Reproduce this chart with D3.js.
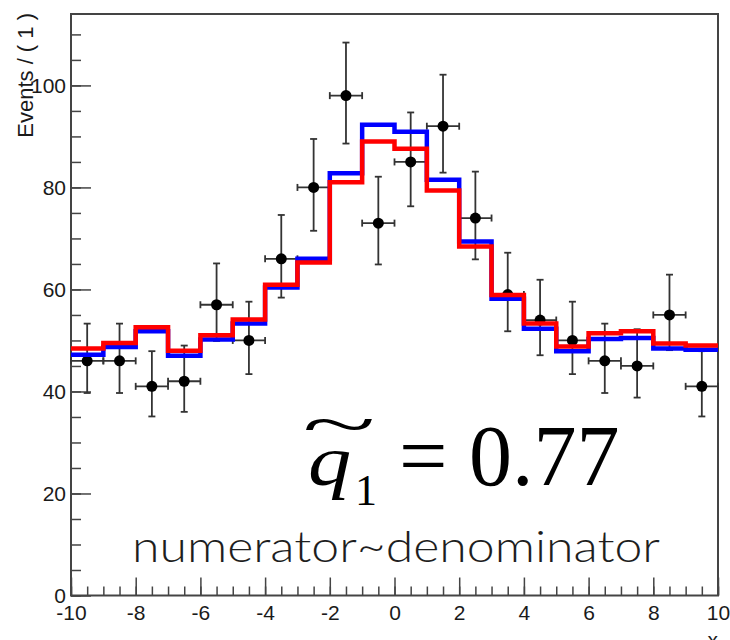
<!DOCTYPE html>
<html>
<head>
<meta charset="utf-8">
<script src="https://cdn.jsdelivr.net/npm/d3@7"></script>
<style>
  body { margin: 0; background: #fff; }
</style>
</head>
<body>
<svg id="chart" width="730" height="640"></svg>
<script>
// bin lower edges, width 1
const binLow = [-10, -9, -8, -7, -6, -5, -4, -3, -2, -1, 0, 1, 2, 3, 4, 5, 6, 7, 8, 9];
const binWidth = 1;

// data points (events per bin) and their error bar ends
const dataCounts = [46, 46, 41, 42, 57, 50, 66, 80, 98, 73, 85, 92, 74, 59, 54, 50, 46, 45, 55, 41];
const errLow  = [39.7, 39.7, 35.1, 36.0, 49.9, 43.4, 58.4, 71.5, 88.6, 64.9, 76.3, 82.9, 65.9, 51.8, 47.1, 43.4, 39.7, 38.8, 48.1, 35.1];
const errHigh = [53.3, 53.3, 47.9, 49.0, 65.1, 57.6, 74.6, 89.5, 108.4, 82.1, 94.7, 102.1, 83.1, 67.2, 61.9, 57.6, 53.3, 52.2, 62.9, 47.9];

// model histograms
const blueModel = [47.2, 48.7, 51.8, 47.0, 50.2, 53.3, 60.4, 66.0, 82.8, 92.3, 90.9, 81.5, 69.4, 58.2, 52.3, 47.9, 50.3, 50.5, 48.4, 48.2];
const redModel  = [48.4, 49.5, 52.6, 48.0, 51.0, 54.1, 60.9, 65.3, 81.0, 89.0, 87.6, 79.4, 68.4, 58.9, 53.3, 48.8, 51.4, 51.8, 49.4, 49.0];

const xTicks = [-10, -8, -6, -4, -2, 0, 2, 4, 6, 8, 10];
const yTicks = [0, 20, 40, 60, 80, 100];

const svg = d3.select("#chart");
const fLeft = 71, fRight = 718, fTop = 14, fBottom = 595.5;

const x = d3.scaleLinear().domain([-10, 10]).range([fLeft, fRight]);
const y = d3.scaleLinear().domain([0, 114]).range([fBottom, fTop]);

const axisFont = "'Liberation Sans', Arial, Helvetica, sans-serif";
const frameColor = "#444";

// minor ticks
svg.append("g")
  .attr("transform", `translate(0,${fBottom})`)
  .call(d3.axisBottom(x).tickValues(d3.range(-10, 10.01, 0.5)).tickSize(-9).tickFormat(""))
  .call(g => g.select(".domain").remove())
  .call(g => g.selectAll("line").attr("stroke", frameColor).attr("stroke-width", 1.5));

svg.append("g")
  .attr("transform", `translate(${fLeft},0)`)
  .call(d3.axisLeft(y).tickValues(d3.range(0, 114, 5)).tickSize(-10).tickFormat(""))
  .call(g => g.select(".domain").remove())
  .call(g => g.selectAll("line").attr("stroke", frameColor).attr("stroke-width", 1.5));

// major ticks + labels
svg.append("g")
  .attr("transform", `translate(0,${fBottom})`)
  .call(d3.axisBottom(x).tickValues(xTicks).tickSize(-18).tickPadding(10).tickFormat(d => String(d)))
  .call(g => g.select(".domain").remove())
  .call(g => g.selectAll("line").attr("stroke", frameColor).attr("stroke-width", 1.5))
  .call(g => g.selectAll("text").attr("font-family", axisFont).attr("font-size", 21).attr("fill", "#1a1a1a"));

svg.append("g")
  .attr("transform", `translate(${fLeft},0)`)
  .call(d3.axisLeft(y).tickValues(yTicks).tickSize(-20).tickPadding(5).tickFormat(d => String(d)))
  .call(g => g.select(".domain").remove())
  .call(g => g.selectAll("line").attr("stroke", frameColor).attr("stroke-width", 1.5))
  .call(g => g.selectAll("text").attr("font-family", axisFont).attr("font-size", 21).attr("fill", "#1a1a1a"));

// frame
svg.append("rect")
  .attr("x", fLeft).attr("y", fTop)
  .attr("width", fRight - fLeft).attr("height", fBottom - fTop)
  .attr("fill", "none").attr("stroke", frameColor).attr("stroke-width", 2);

// axis titles
svg.append("text")
  .attr("transform", `translate(33,${fTop - 1}) rotate(-90)`)
  .attr("text-anchor", "end")
  .attr("font-family", axisFont).attr("font-size", 22).attr("fill", "#1a1a1a")
  .text("Events / ( 1 )");

svg.append("text")
  .attr("x", fRight).attr("y", 647)
  .attr("text-anchor", "end")
  .attr("font-family", axisFont).attr("font-size", 21).attr("fill", "#1a1a1a")
  .text("x");

// data points with error bars
const pts = binLow.map((b, i) => ({ lo: b, c: dataCounts[i], eLo: errLow[i], eHi: errHigh[i] }));
const errColor = "#333";
const cap = 3.5;
const pg = svg.append("g");

pg.selectAll(".vbar").data(pts).enter().append("line")
  .attr("x1", d => x(d.lo + binWidth / 2)).attr("x2", d => x(d.lo + binWidth / 2))
  .attr("y1", d => y(d.eLo)).attr("y2", d => y(d.eHi))
  .attr("stroke", errColor).attr("stroke-width", 1.8);

pg.selectAll(".hbar").data(pts).enter().append("line")
  .attr("x1", d => x(d.lo)).attr("x2", d => x(d.lo + binWidth))
  .attr("y1", d => y(d.c)).attr("y2", d => y(d.c))
  .attr("stroke", errColor).attr("stroke-width", 1.8);

// caps
pg.selectAll(".capv").data(pts.flatMap(d => [{ xv: d.lo + binWidth / 2, yv: d.eLo }, { xv: d.lo + binWidth / 2, yv: d.eHi }]))
  .enter().append("line")
  .attr("x1", d => x(d.xv) - cap).attr("x2", d => x(d.xv) + cap)
  .attr("y1", d => y(d.yv)).attr("y2", d => y(d.yv))
  .attr("stroke", errColor).attr("stroke-width", 1.8);

pg.selectAll(".caph").data(pts.flatMap(d => [{ xv: d.lo, yv: d.c }, { xv: d.lo + binWidth, yv: d.c }]))
  .enter().append("line")
  .attr("x1", d => x(d.xv)).attr("x2", d => x(d.xv))
  .attr("y1", d => y(d.yv) - cap).attr("y2", d => y(d.yv) + cap)
  .attr("stroke", errColor).attr("stroke-width", 1.8);

pg.selectAll("circle").data(pts).enter().append("circle")
  .attr("cx", d => x(d.lo + binWidth / 2)).attr("cy", d => y(d.c))
  .attr("r", 5.5).attr("fill", "#000");

// model step curves
const step = d3.line().x(d => x(d[0])).y(d => y(d[1])).curve(d3.curveStepAfter);
function stepPoints(vals) {
  const p = binLow.map((b, i) => [b, vals[i]]);
  p.push([binLow[binLow.length - 1] + binWidth, vals[vals.length - 1]]);
  return p;
}

svg.append("path").datum(stepPoints(blueModel))
  .attr("d", step).attr("fill", "none").attr("stroke", "#0000ff").attr("stroke-width", 4.5);

svg.append("path").datum(stepPoints(redModel))
  .attr("d", step).attr("fill", "none").attr("stroke", "#ff0000").attr("stroke-width", 4.5);

// annotations
const serif = "'Liberation Serif', 'Times New Roman', Times, serif";
svg.append("text")
  .attr("transform", "translate(308,485) scale(1.2,1)")
  .attr("font-family", serif).attr("font-style", "italic").attr("font-size", 72).attr("fill", "#000")
  .text("q");
svg.append("text")
  .attr("transform", "translate(339,446) scale(1.7,0.8)")
  .attr("text-anchor", "middle")
  .attr("font-family", serif).attr("font-size", 80).attr("fill", "#000")
  .text("~");
svg.append("text")
  .attr("x", 355).attr("y", 505)
  .attr("font-family", serif).attr("font-size", 44).attr("fill", "#000")
  .text("1");
svg.append("text")
  .attr("x", 399).attr("y", 485)
  .attr("font-family", serif).attr("font-size", 86).attr("fill", "#000")
  .text("= 0.77");

svg.append("text")
  .attr("x", 132).attr("y", 561.5)
  .attr("font-family", "Lato, 'Open Sans', sans-serif").attr("font-weight", 300).attr("font-size", 44).attr("fill", "#1e1e1e")
  .attr("textLength", 528).attr("lengthAdjust", "spacingAndGlyphs")
  .text("numerator~denominator");
</script>
</body>
</html>
